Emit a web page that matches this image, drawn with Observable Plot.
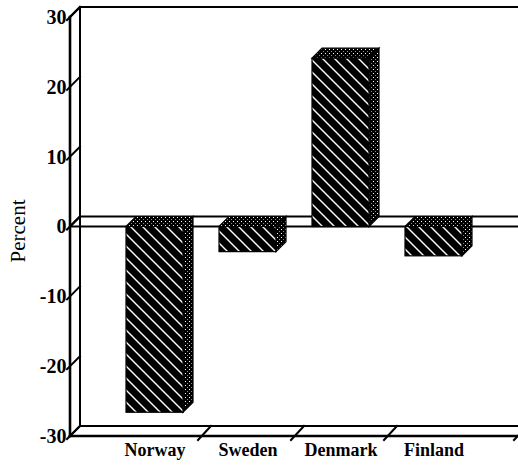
<!DOCTYPE html>
<html>
<head>
<meta charset="utf-8">
<script src="https://cdn.jsdelivr.net/npm/d3@7"></script>
<script src="https://cdn.jsdelivr.net/npm/@observablehq/plot@0.6"></script>
<style>
  html, body { margin: 0; padding: 0; background: #fff; }
  #chart svg { display: block; }
</style>
</head>
<body>
<div id="chart"></div>
<script>
// Percent change by country
const countries = ["Norway", "Sweden", "Denmark", "Finland"];
const change = [-26.6, -3.6, 24.1, -4.2];
const yTicks = [-30, -20, -10, 0, 10, 20, 30];

const data = countries.map((country, i) => ({country, value: change[i]}));

// depth offset of the pseudo 3-D box, in pixels
const DX = 10, DY = -10;

const bandwidth = (x) => (typeof x.bandwidth === "function" ? x.bandwidth() : x.bandwidth);
const stepOf = (x) => (typeof x.step === "function" ? x.step() : x.step);

// left wall, floor, back edge and zero plane
function frame(index, {x, y}, values, dims) {
  const left = dims.marginLeft;
  const right = dims.width - dims.marginRight;
  const [lo, hi] = y.domain();
  const yTop = y(hi), yBot = y(lo), y0 = y(0);
  const g = d3.create("svg:g").attr("fill", "none").attr("stroke", "black").attr("stroke-linecap", "square");
  const line = (x1, y1, x2, y2, w) =>
    g.append("line").attr("x1", x1).attr("y1", y1).attr("x2", x2).attr("y2", y2).attr("stroke-width", w);
  // left wall
  line(left, yTop, left, yBot, 2.6);
  line(left + DX, yTop + DY, left + DX, yBot + DY, 2);
  line(left, yTop, left + DX, yTop + DY, 2);
  // back top edge
  line(left + DX, yTop + DY, right + DX + 20, yTop + DY, 2);
  // floor
  line(left, yBot, right, yBot, 2.6);
  line(left + DX, yBot + DY, right + DX + 20, yBot + DY, 2);
  line(left, yBot, left + DX, yBot + DY, 2);
  // zero plane
  line(left, y0, right + DX + 20, y0, 2);
  line(left + DX, y0 + DY, right + DX + 20, y0 + DY, 2);
  line(left, y0, left + DX, y0 + DY, 2);
  // value ticks on the left wall
  for (const t of yTicks) {
    const ty = y(t);
    line(left - 3, ty + 3, left + DX, ty + DY, 2);
  }
  // category separators on the floor
  const bw = bandwidth(x), gap = stepOf(x) - bw;
  const seps = countries.slice(1).map((c) => x(c) - gap / 2).concat([right]);
  for (const sx of seps) line(sx - 3, yBot + 4, sx + DX, yBot + DY, 2);
  return g.node();
}

// top and side faces of each bar
function faces(index, {x, y}) {
  const bw = bandwidth(x);
  const g = d3.create("svg:g").attr("fill", "url(#stipple)").attr("stroke", "black").attr("stroke-width", 1.2);
  for (const d of data) {
    const xl = x(d.country), xr = xl + bw;
    const yt = y(Math.max(0, d.value)), yb = y(Math.min(0, d.value));
    g.append("path").attr("d", `M${xl},${yt}L${xl + DX},${yt + DY}L${xr + DX},${yt + DY}L${xr},${yt}Z`);
    g.append("path").attr("d", `M${xr},${yt}L${xr + DX},${yt + DY}L${xr + DX},${yb + DY}L${xr},${yb}Z`);
  }
  return g.node();
}

const chart = Plot.plot({
  width: 518,
  height: 465,
  marginLeft: 70,
  marginRight: 1,
  marginTop: 17,
  marginBottom: 29,
  style: {fontFamily: "'Liberation Serif', 'Times New Roman', serif", fontSize: "18px", fontWeight: "bold", color: "black", background: "white"},
  x: {type: "band", domain: countries, paddingInner: 0.39, paddingOuter: 0.585},
  y: {domain: [-30, 30]},
  marks: [
    frame,
    faces,
    Plot.barY(data, {x: "country", y1: 0, y2: "value", fill: "url(#hatch)", stroke: "black", strokeWidth: 1.2}),
    Plot.axisY({ticks: yTicks, tickSize: 0, tickPadding: 4, tickFormat: (d) => String(d), label: null, fontSize: 20}),
    Plot.axisX({tickSize: 0, tickPadding: 7, label: null, fontSize: 18}),
    Plot.text(["Percent"], {frameAnchor: "left", textAnchor: "middle", dx: -52, dy: 4, rotate: -90, fontSize: 21, fontWeight: "normal"})
  ]
});

// fill patterns: white hatching on black, and stippling on black
const defs = d3.select(chart).insert("defs", ":first-child");
const hatch = defs.append("pattern").attr("id", "hatch").attr("patternUnits", "userSpaceOnUse")
  .attr("width", 12).attr("height", 12);
hatch.append("rect").attr("width", 12).attr("height", 12).attr("fill", "black");
hatch.append("path").attr("d", "M-1,-1L13,13M-1,11L1,13M11,-1L13,1")
  .attr("stroke", "white").attr("stroke-width", 1.4);
const stipple = defs.append("pattern").attr("id", "stipple").attr("patternUnits", "userSpaceOnUse")
  .attr("width", 4).attr("height", 4);
stipple.append("rect").attr("width", 4).attr("height", 4).attr("fill", "black");
stipple.append("rect").attr("x", 1).attr("y", 1).attr("width", 1).attr("height", 1).attr("fill", "white");
stipple.append("rect").attr("x", 3).attr("y", 3).attr("width", 1).attr("height", 1).attr("fill", "#888");

document.getElementById("chart").appendChild(chart);
</script>
</body>
</html>
